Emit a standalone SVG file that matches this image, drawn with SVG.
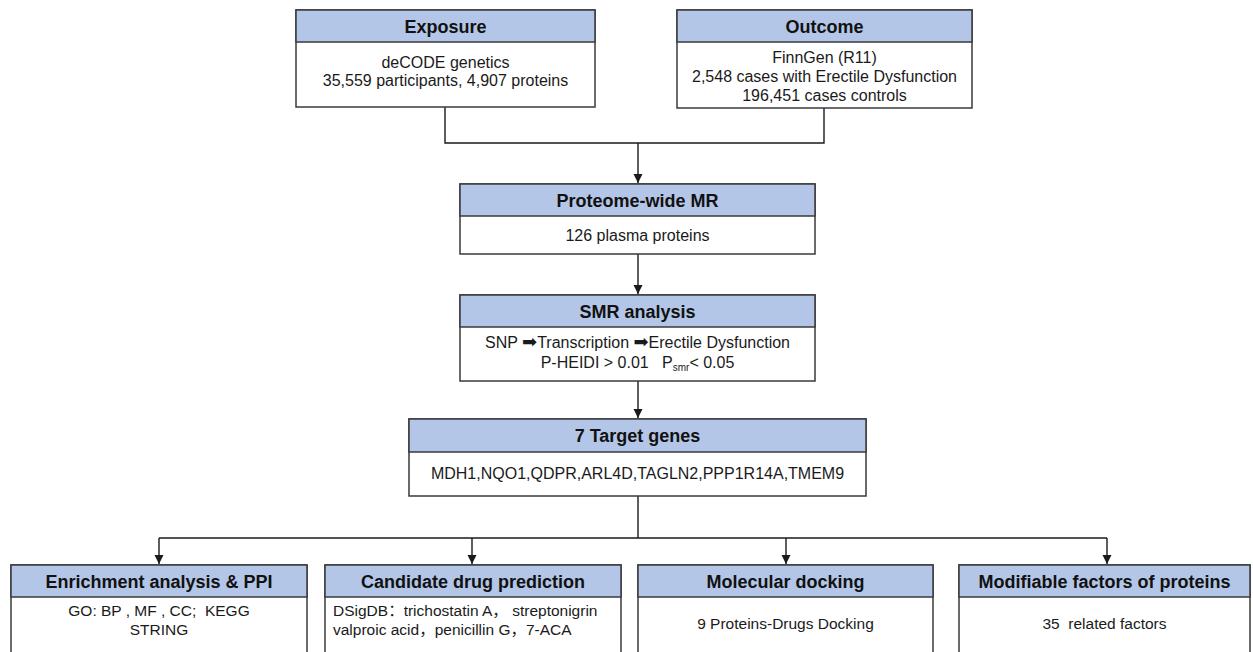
<svg xmlns="http://www.w3.org/2000/svg" width="1253" height="652" viewBox="0 0 1253 652">
  <defs>
    <marker id="arr" markerUnits="userSpaceOnUse" markerWidth="10" markerHeight="11" refX="9" refY="4.5" orient="auto">
      <path d="M0,0 L9,4.5 L0,9 Z" fill="#1a1a1a"/>
    </marker>
    <style>
      .box { fill: #ffffff; stroke: #3a3a3a; stroke-width: 1.5; }
      .hdr { fill: #b4c6e7; stroke: #3a3a3a; stroke-width: 1.5; }
      .ht { font-family: "Liberation Sans", Arial, sans-serif; font-weight: bold; font-size: 18px; fill: #111; text-anchor: middle; }
      .bt { font-family: "Liberation Sans", Arial, "Noto Sans CJK SC", sans-serif; font-size: 16px; fill: #1a1a1a; text-anchor: middle; white-space: pre; }
      .bs { font-family: "Liberation Sans", Arial, "Noto Sans CJK SC", sans-serif; font-size: 15.5px; fill: #1a1a1a; text-anchor: middle; white-space: pre; }
      .ar { font-family: "DejaVu Sans", sans-serif; font-size: 18px; }
      .con { fill: none; stroke: #1a1a1a; stroke-width: 1.4; }
    </style>
  </defs>
  <rect width="1253" height="652" fill="#ffffff"/>

  <g id="connectors">
    <path class="con" d="M445,107 V143 H824 V108"/>
    <path class="con" d="M638,143 V183" marker-end="url(#arr)"/>
    <path class="con" d="M638,254 V294" marker-end="url(#arr)"/>
    <path class="con" d="M638,381 V418" marker-end="url(#arr)"/>
    <path class="con" d="M638,496 V538"/>
    <path class="con" d="M159,538 H1107"/>
    <path class="con" d="M159,538 V564" marker-end="url(#arr)"/>
    <path class="con" d="M472,538 V564" marker-end="url(#arr)"/>
    <path class="con" d="M786,538 V564" marker-end="url(#arr)"/>
    <path class="con" d="M1107,538 V564" marker-end="url(#arr)"/>
  </g>

  <g id="exposure">
    <rect class="box" x="296" y="10" width="299" height="97"/>
    <rect class="hdr" x="296" y="10" width="299" height="32"/>
    <text class="ht" x="445.5" y="33">Exposure</text>
    <text class="bt" x="445.5" y="67.5">deCODE genetics</text>
    <text class="bt" x="445.5" y="86">35,559 participants, 4,907 proteins</text>
  </g>

  <g id="outcome">
    <rect class="box" x="677" y="10" width="295" height="98"/>
    <rect class="hdr" x="677" y="10" width="295" height="32"/>
    <text class="ht" x="824.5" y="33">Outcome</text>
    <text class="bt" x="824.5" y="62.5">FinnGen (R11)</text>
    <text class="bt" x="824.5" y="81.5">2,548 cases with Erectile Dysfunction</text>
    <text class="bt" x="824.5" y="100.5">196,451 cases controls</text>
  </g>

  <g id="proteome-mr">
    <rect class="box" x="460" y="184" width="355" height="70"/>
    <rect class="hdr" x="460" y="184" width="355" height="32"/>
    <text class="ht" x="637.5" y="206.5">Proteome-wide MR</text>
    <text class="bt" x="637.5" y="240.5">126 plasma proteins</text>
  </g>

  <g id="smr">
    <rect class="box" x="460" y="295" width="355" height="86"/>
    <rect class="hdr" x="460" y="295" width="355" height="32"/>
    <text class="ht" x="637.5" y="317.5">SMR analysis</text>
    <text class="bt" x="637.5" y="347.5">SNP <tspan class="ar">➡</tspan>Transcription <tspan class="ar">➡</tspan>Erectile Dysfunction</text>
    <text class="bt" x="637.5" y="367.5">P-HEIDI &gt; 0.01   P<tspan font-size="10" dy="3">smr</tspan><tspan dy="-3">&lt; 0.05</tspan></text>
  </g>

  <g id="target-genes">
    <rect class="box" x="409" y="419" width="457" height="77"/>
    <rect class="hdr" x="409" y="419" width="457" height="33"/>
    <text class="ht" x="637.5" y="442">7 Target genes</text>
    <text class="bt" x="637.5" y="479">MDH1,NQO1,QDPR,ARL4D,TAGLN2,PPP1R14A,TMEM9</text>
  </g>

  <g id="enrichment">
    <rect class="box" x="11" y="565" width="296" height="100"/>
    <rect class="hdr" x="11" y="565" width="296" height="32"/>
    <text class="ht" x="159" y="587.5">Enrichment analysis &amp; PPI</text>
    <text class="bs" x="159" y="615.5">GO: BP , MF , CC;  KEGG</text>
    <text class="bs" x="159" y="634.5">STRING</text>
  </g>

  <g id="drug-prediction">
    <rect class="box" x="325" y="565" width="296" height="100"/>
    <rect class="hdr" x="325" y="565" width="296" height="32"/>
    <text class="ht" x="473" y="587.5">Candidate drug prediction</text>
    <text class="bs" x="333" y="615.5" style="text-anchor:start">DSigDB：trichostatin A， streptonigrin</text>
    <text class="bs" x="333" y="634.5" style="text-anchor:start">valproic acid，penicillin G，7-ACA</text>
  </g>

  <g id="docking">
    <rect class="box" x="638" y="565" width="295" height="100"/>
    <rect class="hdr" x="638" y="565" width="295" height="32"/>
    <text class="ht" x="785.5" y="587.5">Molecular docking</text>
    <text class="bs" x="785.5" y="629">9 Proteins-Drugs Docking</text>
  </g>

  <g id="modifiable-factors">
    <rect class="box" x="959" y="565" width="291" height="100"/>
    <rect class="hdr" x="959" y="565" width="291" height="32"/>
    <text class="ht" x="1104.5" y="587.5">Modifiable factors of proteins</text>
    <text class="bs" x="1104.5" y="629">35  related factors</text>
  </g>
</svg>
